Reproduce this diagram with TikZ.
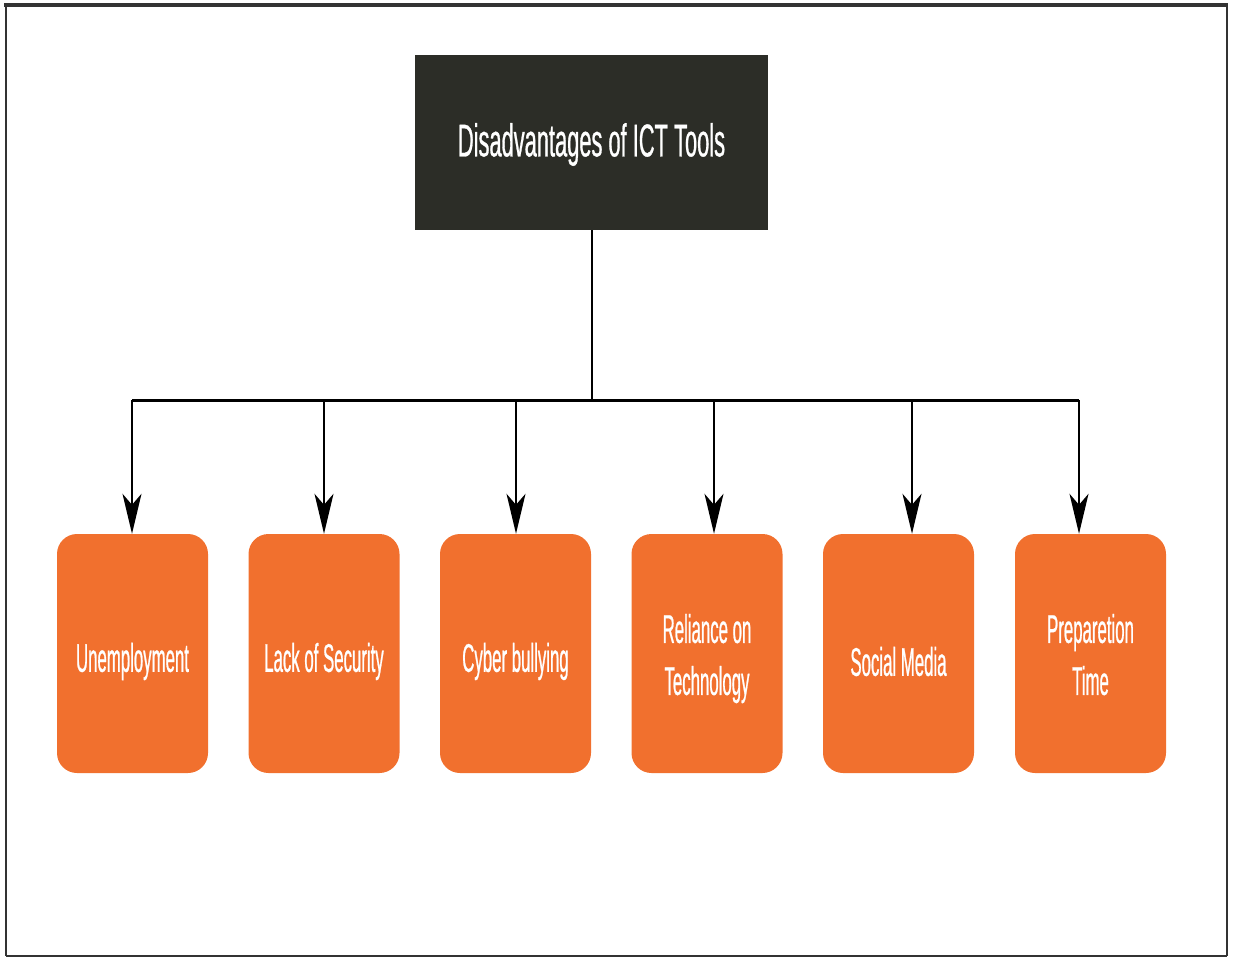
\documentclass[tikz,border=0pt]{standalone}
\usepackage{fontspec}
\newfontfamily\titlefont[FakeStretch=0.475,FakeBold=0.6]{Liberation Sans}
\newfontfamily\condfont[FakeStretch=0.42,FakeBold=0.6]{Liberation Sans}
\usetikzlibrary{arrows.meta}
\definecolor{darkbox}{HTML}{2C2D27}
\definecolor{orangebox}{HTML}{F1702E}
\newcommand{\lowered}[1]{\raisebox{-8pt}[\height][\depth]{#1}}
\newcommand{\twolines}[2]{\raisebox{-5pt}[\height][\depth]{\begin{tabular}{@{}c@{}}#1\\#2\end{tabular}}}
\begin{document}
\begin{tikzpicture}[x=1pt,y=-1pt,
  titlebox/.style={fill=darkbox,draw=none,minimum width=353pt,minimum height=175pt,inner sep=0pt,
    text=white,font=\titlefont\fontsize{46}{52}\selectfont},
  itembox/.style={fill=orangebox,draw=none,rounded corners=20pt,minimum width=151pt,minimum height=239pt,
    inner sep=0pt,text=white,align=center,font=\condfont\fontsize{40}{52}\selectfont},
  conn/.style={line width=2pt,black},
  bar/.style={line width=3pt,black},
  arr/.style={line width=2pt,black,-{Stealth[length=40pt,width=19pt,inset=11pt]}},
  frame/.style={line width=2pt,black!80}]
\useasboundingbox (0,0) rectangle (1238,958);
% frame
\draw[frame,line width=3.5pt] (4,5) -- (1228,5);
\draw[frame] (6,5) -- (6,956);
\draw[frame] (1227,5) -- (1227,956);
\draw[frame] (6,956) -- (1227,956);
% title
\node[titlebox] (top) at (591.5,142.5) {\raisebox{-2pt}[\height][\depth]{Disadvantages of ICT Tools}};
% items
\node[itembox] (n1) at (132.5,653.5) {\lowered{Unemployment}};
\node[itembox] (n2) at (324,653.5) {\lowered{Lack of Security}};
\node[itembox] (n3) at (515.5,653.5) {\lowered{Cyber bullying}};
\node[itembox] (n4) at (707,653.5) {\twolines{Reliance on}{Technology}};
\node[itembox] (n5) at (898.5,653.5) {\lowered{Social Media}};
\node[itembox] (n6) at (1090.5,653.5) {\twolines{Preparetion}{Time}};
% connectors
\coordinate (hub) at (592,400);
\coordinate (b1) at (132,400);
\coordinate (b2) at (324,400);
\coordinate (b3) at (516,400);
\coordinate (b4) at (714,400);
\coordinate (b5) at (912,400);
\coordinate (b6) at (1079,400);
\draw[conn] (top.south -| hub) -- (hub);
\draw[bar] (b1) -- (b6);
\draw[arr] (b1) -- (b1 |- n1.north);
\draw[arr] (b2) -- (b2 |- n2.north);
\draw[arr] (b3) -- (b3 |- n3.north);
\draw[arr] (b4) -- (b4 |- n4.north);
\draw[arr] (b5) -- (b5 |- n5.north);
\draw[arr] (b6) -- (b6 |- n6.north);
\end{tikzpicture}
\end{document}
